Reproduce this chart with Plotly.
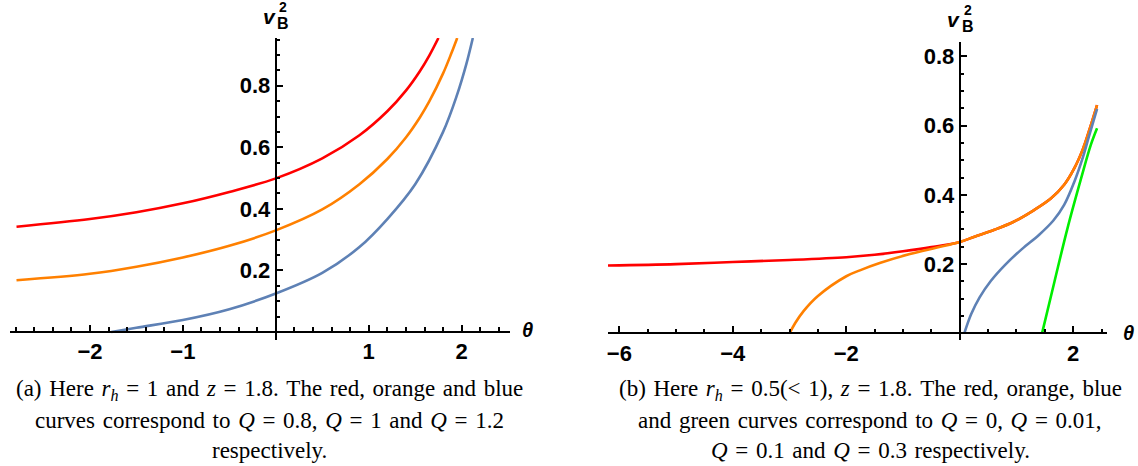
import plotly.graph_objects as go

# ---------------- data: panel (a)  r_h = 1, z = 1.8 ----------------
theta_a_red = [-2.79, -2.0, -1.5, -1.0, -0.5, 0.0, 0.5, 0.9, 1.2, 1.4, 1.55, 1.65, 1.75]
v2_a_red = [0.342, 0.367, 0.389, 0.418, 0.455, 0.499, 0.564, 0.639, 0.717, 0.784, 0.847, 0.897, 0.955]

theta_a_orange = [-2.79, -2.0, -1.5, -1.0, -0.5, 0.0, 0.5, 0.9, 1.2, 1.4, 1.55, 1.65, 1.8, 1.89, 1.952]
v2_a_orange = [0.168, 0.189, 0.212, 0.242, 0.28, 0.33, 0.398, 0.48, 0.562, 0.632, 0.697, 0.748, 0.84, 0.906, 0.955]

theta_a_blue = [-1.77, -1.5, -1.0, -0.5, 0.0, 0.5, 0.9, 1.2, 1.5, 1.8, 1.95, 2.05, 2.12]
v2_a_blue = [0.0, 0.014, 0.039, 0.074, 0.125, 0.192, 0.276, 0.367, 0.48, 0.65, 0.77, 0.87, 0.955]

# ---------------- data: panel (b)  r_h = 0.5, z = 1.8 ----------------
theta_b_red = [-6.2, -5.0, -4.0, -3.0, -2.0, -1.5, -1.0, -0.5, 0.0, 0.26, 0.61, 0.96, 1.31, 1.61, 1.84, 2.02, 2.17, 2.28, 2.42]
v2_b_red = [0.196, 0.2, 0.206, 0.212, 0.22, 0.227, 0.237, 0.249, 0.264, 0.279, 0.299, 0.323, 0.356, 0.39, 0.429, 0.477, 0.532, 0.585, 0.659]

theta_b_orange = [-3.0, -2.9, -2.75, -2.5, -2.0, -1.76, -1.41, -0.88, -0.4, 0.0, 0.26, 0.61, 0.96, 1.31, 1.61, 1.84, 2.02, 2.17, 2.28, 2.42]
v2_b_orange = [0.0, 0.03, 0.065, 0.108, 0.165, 0.182, 0.203, 0.229, 0.248, 0.264, 0.279, 0.299, 0.323, 0.356, 0.39, 0.429, 0.477, 0.532, 0.585, 0.659]

theta_b_blue = [0.08, 0.2, 0.35, 0.55, 0.8, 1.1, 1.4, 1.65, 1.84, 2.02, 2.17, 2.28, 2.42]
v2_b_blue = [0.0, 0.055, 0.104, 0.152, 0.198, 0.244, 0.285, 0.326, 0.371, 0.438, 0.508, 0.57, 0.648]

theta_b_green = [1.45, 1.67, 1.90, 2.14, 2.31, 2.42]
v2_b_green = [0.0, 0.15, 0.304, 0.448, 0.544, 0.592]

# tick labels
xa_ticks = [-2, -1, 1, 2]
xa_ticktext = ["\u22122", "\u22121", "1", "2"]
xb_ticks = [-6, -4, -2, 2]
xb_ticktext = ["\u22126", "\u22124", "\u22122", "2"]
y_ticks = [0.2, 0.4, 0.6, 0.8]
y_ticktext = ["0.2", "0.4", "0.6", "0.8"]

RED = "#FF0000"
ORANGE = "#FF8000"
BLUE = "#5E81B5"
GREEN = "#00EE00"

W, H = 1138, 466


def px2x(px):
    return px / W


def py2y(py):
    return 1 - py / H


xa_range = [-2.86, 2.52]
ya_range = [-0.026, 0.955]
xb_range = [-6.2, 2.59]
yb_range = [-0.019, 0.842]
xa_dom = [px2x(10), px2x(510)]
ya_dom = [py2y(340), py2y(38)]
xb_dom = [px2x(608), px2x(1106.7)]
yb_dom = [py2y(340), py2y(41.7)]


def pos(val, rng, dom):
    return dom[0] + (val - rng[0]) / (rng[1] - rng[0]) * (dom[1] - dom[0])


def frange(a, b, step):
    n = int(round((b - a) / step))
    return [round(a + i * step, 6) for i in range(n + 1)]


fig = go.Figure()
lw = 2.6
sm = 1.0
for xs, ys, c in [(theta_a_red, v2_a_red, RED), (theta_a_orange, v2_a_orange, ORANGE), (theta_a_blue, v2_a_blue, BLUE)]:
    fig.add_trace(go.Scatter(x=xs, y=ys, mode="lines", line=dict(color=c, width=lw, shape="spline", smoothing=sm),
                             xaxis="x", yaxis="y", showlegend=False, hoverinfo="skip"))
for xs, ys, c in [(theta_b_red, v2_b_red, RED), (theta_b_orange, v2_b_orange, ORANGE),
                  (theta_b_blue, v2_b_blue, BLUE), (theta_b_green, v2_b_green, GREEN)]:
    fig.add_trace(go.Scatter(x=xs, y=ys, mode="lines", line=dict(color=c, width=lw, shape="spline", smoothing=sm),
                             xaxis="x2", yaxis="y2", showlegend=False, hoverinfo="skip"))

tickfont = dict(family="Liberation Sans", size=22, color="black", weight="bold")
common = dict(showline=True, linecolor="black", linewidth=2.2, ticks="inside", ticklen=6, tickwidth=2,
              tickcolor="black", showgrid=False, zeroline=False, tickfont=tickfont, tickmode="array",
              anchor="free", fixedrange=True)


def minor(vals):
    return dict(tickmode="array", tickvals=vals, ticks="inside", ticklen=3.5, tickwidth=1.5,
                tickcolor="black", showgrid=False)


fig.update_layout(
    width=W, height=H, margin=dict(l=0, r=0, t=0, b=0),
    paper_bgcolor="white", plot_bgcolor="white",
    xaxis=dict(domain=xa_dom, range=xa_range, position=pos(0, ya_range, ya_dom), ticklabelstandoff=0,
               tickvals=xa_ticks, ticktext=xa_ticktext, minor=minor(frange(-2.8, 2.4, 0.2)), **common),
    yaxis=dict(domain=ya_dom, range=ya_range, position=pos(0, xa_range, xa_dom),
               tickvals=y_ticks, ticktext=y_ticktext, minor=minor(frange(0.05, 0.95, 0.05)), **common),
    xaxis2=dict(domain=xb_dom, range=xb_range, position=pos(0, yb_range, yb_dom), ticklabelstandoff=0,
                tickvals=xb_ticks, ticktext=xb_ticktext, minor=minor(frange(-6.0, 2.5, 0.5)), **common),
    yaxis2=dict(domain=yb_dom, range=yb_range, position=pos(0, xb_range, xb_dom),
                tickvals=y_ticks, ticktext=y_ticktext, minor=minor(frange(0.05, 0.80, 0.05)), **common),
)


def ann(px, py, text, size, family="Liberation Sans", bold=False, italic=False, xanchor="center"):
    t = text
    if italic:
        t = "<i>" + t + "</i>"
    if bold:
        t = "<b>" + t + "</b>"
    fig.add_annotation(x=px2x(px), y=py2y(py), xref="paper", yref="paper", text=t, showarrow=False,
                       xanchor=xanchor, yanchor="middle", borderpad=0,
                       font=dict(family=family, size=size, color="black"))


# axis labels
for dy, axpx in [(0, 276), (3, 960.5)]:
    ann(axpx - 6.5, 16 + dy, "v", 21, bold=True, italic=True)
    ann(axpx + 7, 7 + dy, "2", 14, bold=True)
    ann(axpx + 7, 23 + dy, "B", 16, bold=True)
ann(527, 330, "\u03b8", 20, bold=True, italic=True)
ann(1128, 333, "\u03b8", 20, bold=True, italic=True)

# captions (slightly wider word spacing, as in the typeset original)
S = "\u2004"
cap_a = [
    "(a)" + S + "Here" + S + "<i>r</i><sub><i>h</i></sub>" + S + "=" + S + "1" + S + "and" + S + "<i>z</i>" + S + "=" + S
    + "1.8." + S + "The" + S + "red," + S + "orange" + S + "and" + S + "blue",
    "curves" + S + "correspond" + S + "to" + S + "<i>Q</i>" + S + "=" + S + "0.8," + S + "<i>Q</i>" + S + "=" + S + "1"
    + S + "and" + S + "<i>Q</i>" + S + "=" + S + "1.2",
    "respectively.",
]
cap_b = [
    "(b)" + S + "Here" + S + "<i>r</i><sub><i>h</i></sub>" + S + "=" + S + "0.5(&lt;" + S + "1)," + S + "<i>z</i>" + S + "=" + S
    + "1.8." + S + "The" + S + "red," + S + "orange," + S + "blue",
    "and" + S + "green" + S + "curves" + S + "correspond" + S + "to" + S + "<i>Q</i>" + S + "=" + S + "0," + S
    + "<i>Q</i>" + S + "=" + S + "0.01,",
    "<i>Q</i>" + S + "=" + S + "0.1" + S + "and" + S + "<i>Q</i>" + S + "=" + S + "0.3" + S + "respectively.",
]
for i, (la, lb) in enumerate(zip(cap_a, cap_b)):
    yy = 390 + 30 * i
    ann(269, yy, la, 23, family="Liberation Serif")
    ann(870, yy, lb, 23, family="Liberation Serif")

fig.write_html("out.html", config={"displayModeBar": False},
               post_script="document.body.style.margin='0px';document.body.style.overflow='hidden';")
